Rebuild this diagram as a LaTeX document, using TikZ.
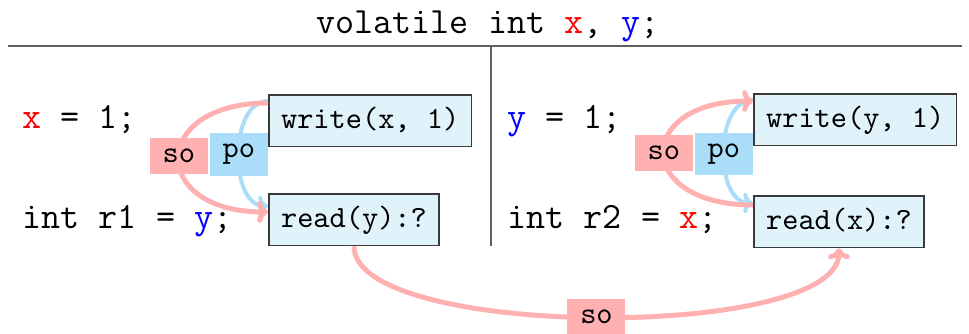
\documentclass[tikz,border=0pt]{standalone}
\usetikzlibrary{arrows.meta,calc}
\definecolor{sopink}{HTML}{FFB0B0}
\definecolor{poblue}{HTML}{A9DDF8}
\definecolor{boxfill}{HTML}{E1F3FA}
\definecolor{boxborder}{HTML}{3A3A3A}
\definecolor{rulegray}{HTML}{606060}
\newcommand\codesize{\fontsize{12}{14}\selectfont\ttfamily}
\newcommand\boxsize{\fontsize{10}{12}\selectfont\ttfamily}
\begin{document}
\begin{tikzpicture}[x=0.3242pt,y=-0.3242pt,
  codetext/.style={font=\codesize, inner sep=0pt, anchor=base west},
  evbox/.style={draw=boxborder, fill=boxfill, line width=0.5pt, font=\boxsize,
    inner xsep=4pt, inner ysep=3.4pt, text height=7.5pt, text depth=2.5pt, anchor=north west},
  lab/.style={font=\boxsize, inner xsep=4.15pt, inner ysep=3.65pt},
  solabel/.style={lab, fill=sopink},
  polabel/.style={lab, fill=poblue},
  soedge/.style={draw=sopink, line width=1.6pt, -{To[length=3.5pt,width=7pt]}},
  poedge/.style={draw=poblue, line width=1.3pt, -{To[length=3.2pt,width=6.5pt]}},
  rule/.style={draw=rulegray, line width=0.5pt}]
\useasboundingbox (0,0) rectangle (969,333);

% title and rules
\node[font=\codesize, anchor=base, inner sep=0pt] (title) at (488,33)
  {volatile int \textcolor{red}{x}, \textcolor{blue}{y};};
\coordinate (hl) at (8,46);
\coordinate (hr) at (962,46);
\coordinate (vt) at (491,46);
\coordinate (vb) at (491,246);
\draw[rule] (hl) -- (hr);
\draw[rule] (vt) -- (vb);

% code lines
\node[codetext] (c1) at (22,128) {\textcolor{red}{x} = 1;};
\node[codetext] (c2) at (22,228) {int r1 = \textcolor{blue}{y};};
\node[codetext] (c3) at (507,128) {\textcolor{blue}{y} = 1;};
\node[codetext] (c4) at (507,228) {int r2 = \textcolor{red}{x};};

% event boxes
\node[evbox] (w1) at (268,94) {write(x, 1)};
\node[evbox] (r1) at (268,193) {read(y):?};
\node[evbox] (w2) at (753,93) {write(y, 1)};
\node[evbox] (r2) at (753,195) {read(x):?};

% attachment points
\coordinate (w1a) at ($(w1.north west)+(0,7)$);
\coordinate (w1b) at ($(w1.north west)+(0,9)$);
\coordinate (r1a) at ($(r1.north west)+(0,13)$);
\coordinate (r1b) at ($(r1.north west)+(0,19)$);
\coordinate (w2a) at ($(w2.north west)+(0,7)$);
\coordinate (w2b) at ($(w2.north west)+(0,8)$);
\coordinate (r2a) at ($(r2.north west)+(0,8)$);
\coordinate (r2b) at ($(r2.north west)+(0,10)$);

% left thread
\draw[poedge] (w1a) .. controls +(-39,0) and +(-39,0) .. (r1a)
  node[polabel, pos=0.5, xshift=0pt, yshift=-0.3pt] (po1) {po};
\draw[soedge] (w1b) .. controls +(-119,0) and +(-119,0) .. (r1b)
  node[solabel, pos=0.5, yshift=0.5pt] (so1) {so};

% right thread
\draw[poedge] (w2a) .. controls +(-39,0) and +(-39,0) .. (r2a)
  node[polabel, pos=0.5, yshift=-0.8pt] (po2) {po};
\draw[soedge] (r2b) .. controls +(-119,0) and +(-119,0) .. (w2b)
  node[solabel, pos=0.5] (so2) {so};

% cross-thread
\draw[soedge] (r1.south) .. controls +(0,93) and +(0,93) .. (r2.south)
  node[solabel, pos=0.5] (so3) {so};
\end{tikzpicture}
\end{document}
